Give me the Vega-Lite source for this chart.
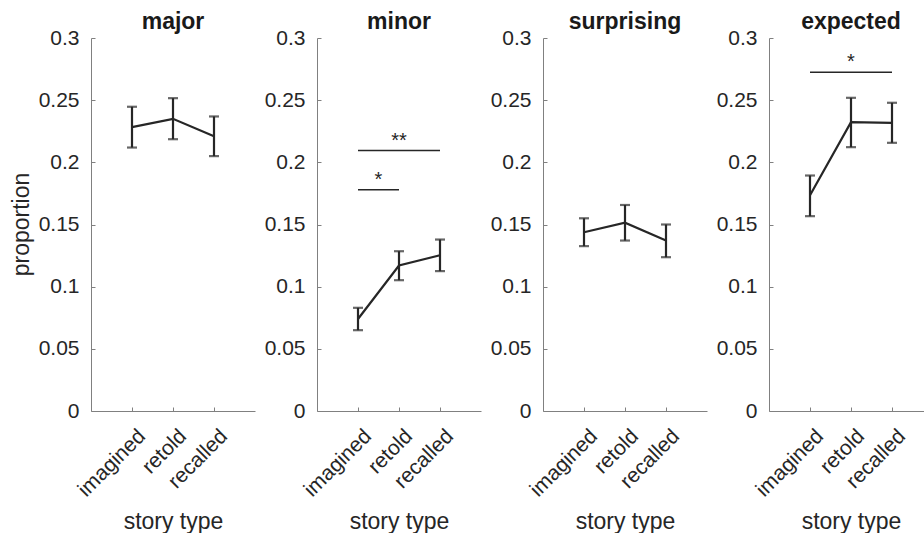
{
  "$schema": "https://vega.github.io/schema/vega-lite/v6.json",
  "autosize": {"type": "pad"},
  "padding": {"left": 10, "top": 11, "right": 0, "bottom": 0},
  "bounds": "flush",
  "spacing": 62,
  "background": "white",
  "config": {
    "view": {"stroke": null},
    "font": "Liberation Sans",
    "axis": {
      "domainColor": "#808080", "tickColor": "#808080", "labelColor": "#262626", "titleColor": "#262626",
      "labelFontSize": 21, "titleFontSize": 23, "titleFontWeight": "normal", "grid": false,
      "tickSize": -4, "labelPadding": 16, "domainWidth": 1, "tickWidth": 1, "labelOverlap": false, "labelFlush": false, "labelBound": false,
      "labelFont": "Liberation Sans", "titleFont": "Liberation Sans"
    },
    "axisX": {"labelPadding": 18, "labelOffset": 2, "titleBaseline": "alphabetic", "titleY": 117},
    "title": {"fontSize": 23, "fontWeight": "bold", "color": "#1a1a1a", "font": "Liberation Sans", "baseline": "alphabetic", "offset": -7}
  },
  "datasets": {
    "means": [
      {"panel": "major", "pos": 1, "story": "imagined", "mean": 0.2283, "lo": 0.2119, "hi": 0.2447},
      {"panel": "major", "pos": 2, "story": "retold", "mean": 0.2350, "lo": 0.2186, "hi": 0.2516},
      {"panel": "major", "pos": 3, "story": "recalled", "mean": 0.2210, "lo": 0.2050, "hi": 0.2369},
      {"panel": "minor", "pos": 1, "story": "imagined", "mean": 0.0740, "lo": 0.0650, "hi": 0.0830},
      {"panel": "minor", "pos": 2, "story": "retold", "mean": 0.1170, "lo": 0.1052, "hi": 0.1285},
      {"panel": "minor", "pos": 3, "story": "recalled", "mean": 0.1253, "lo": 0.1125, "hi": 0.1379},
      {"panel": "surprising", "pos": 1, "story": "imagined", "mean": 0.1438, "lo": 0.1326, "hi": 0.1550},
      {"panel": "surprising", "pos": 2, "story": "retold", "mean": 0.1514, "lo": 0.1371, "hi": 0.1657},
      {"panel": "surprising", "pos": 3, "story": "recalled", "mean": 0.1371, "lo": 0.1237, "hi": 0.1500},
      {"panel": "expected", "pos": 1, "story": "imagined", "mean": 0.1735, "lo": 0.1567, "hi": 0.1894},
      {"panel": "expected", "pos": 2, "story": "retold", "mean": 0.2323, "lo": 0.2122, "hi": 0.2519},
      {"panel": "expected", "pos": 3, "story": "recalled", "mean": 0.2318, "lo": 0.2157, "hi": 0.2479}
    ],
    "sig": [
      {"panel": "minor", "x1": 1, "x2": 3, "xm": 2, "y": 0.2095, "label": "**"},
      {"panel": "minor", "x1": 1, "x2": 2, "xm": 1.5, "y": 0.178, "label": "*"},
      {"panel": "expected", "x1": 1, "x2": 3, "xm": 2, "y": 0.2725, "label": "*"}
    ]
  },
  "hconcat": [
    {
      "width": 164, "height": 373, "title": "major",
      "data": {"name": "means"},
      "transform": [{"filter": "datum.panel === 'major'"}],
      "encoding": {
        "x": {"field": "pos", "type": "quantitative", "scale": {"domain": [0, 4], "nice": false},
          "axis": {"title": "story type", "values": [1, 2, 3], "labelAngle": -45, "labelAlign": "right", "labelBaseline": "top",
            "labelExpr": "datum.value == 1 ? 'imagined' : datum.value == 2 ? 'retold' : 'recalled'"}}
      },
      "layer": [
        {"mark": {"type": "line", "color": "#262626", "strokeWidth": 2.2},
          "encoding": {"y": {"field": "mean", "type": "quantitative", "scale": {"domain": [0, 0.3], "nice": false},
            "axis": {"title": "proportion", "titleX": -58, "titleY": 186, "values": [0, 0.05, 0.1, 0.15, 0.2, 0.25, 0.3], "format": "~g"}}}},
        {"mark": {"type": "rule", "color": "#262626", "strokeWidth": 2.2},
          "encoding": {"y": {"field": "lo", "type": "quantitative"}, "y2": {"field": "hi"}}},
        {"mark": {"type": "tick", "orient": "horizontal", "color": "#262626", "thickness": 2.2, "size": 10},
          "encoding": {"y": {"field": "lo", "type": "quantitative"}}},
        {"mark": {"type": "tick", "orient": "horizontal", "color": "#262626", "thickness": 2.2, "size": 10},
          "encoding": {"y": {"field": "hi", "type": "quantitative"}}}
      ]
    },
    {
      "width": 164, "height": 373, "title": "minor",
      "data": {"name": "means"},
      "transform": [{"filter": "datum.panel === 'minor'"}],
      "encoding": {
        "x": {"field": "pos", "type": "quantitative", "scale": {"domain": [0, 4], "nice": false},
          "axis": {"title": "story type", "values": [1, 2, 3], "labelAngle": -45, "labelAlign": "right", "labelBaseline": "top",
            "labelExpr": "datum.value == 1 ? 'imagined' : datum.value == 2 ? 'retold' : 'recalled'"}}
      },
      "layer": [
        {"mark": {"type": "line", "color": "#262626", "strokeWidth": 2.2},
          "encoding": {"y": {"field": "mean", "type": "quantitative", "scale": {"domain": [0, 0.3], "nice": false},
            "axis": {"title": null, "values": [0, 0.05, 0.1, 0.15, 0.2, 0.25, 0.3], "format": "~g"}}}},
        {"mark": {"type": "rule", "color": "#262626", "strokeWidth": 2.2},
          "encoding": {"y": {"field": "lo", "type": "quantitative"}, "y2": {"field": "hi"}}},
        {"mark": {"type": "tick", "orient": "horizontal", "color": "#262626", "thickness": 2.2, "size": 10},
          "encoding": {"y": {"field": "lo", "type": "quantitative"}}},
        {"mark": {"type": "tick", "orient": "horizontal", "color": "#262626", "thickness": 2.2, "size": 10},
          "encoding": {"y": {"field": "hi", "type": "quantitative"}}},
        {"data": {"name": "sig"}, "transform": [{"filter": "datum.panel === 'minor'"}],
          "mark": {"type": "rule", "color": "#262626", "strokeWidth": 1.5},
          "encoding": {"x": {"field": "x1", "type": "quantitative"}, "x2": {"field": "x2"}, "y": {"field": "y", "type": "quantitative"}}},
        {"data": {"name": "sig"}, "transform": [{"filter": "datum.panel === 'minor'"}],
          "mark": {"type": "text", "color": "#262626", "fontSize": 20, "baseline": "alphabetic", "dy": -4},
          "encoding": {"x": {"field": "xm", "type": "quantitative"}, "y": {"field": "y", "type": "quantitative"}, "text": {"field": "label"}}}
      ]
    },
    {
      "width": 164, "height": 373, "title": "surprising",
      "data": {"name": "means"},
      "transform": [{"filter": "datum.panel === 'surprising'"}],
      "encoding": {
        "x": {"field": "pos", "type": "quantitative", "scale": {"domain": [0, 4], "nice": false},
          "axis": {"title": "story type", "values": [1, 2, 3], "labelAngle": -45, "labelAlign": "right", "labelBaseline": "top",
            "labelExpr": "datum.value == 1 ? 'imagined' : datum.value == 2 ? 'retold' : 'recalled'"}}
      },
      "layer": [
        {"mark": {"type": "line", "color": "#262626", "strokeWidth": 2.2},
          "encoding": {"y": {"field": "mean", "type": "quantitative", "scale": {"domain": [0, 0.3], "nice": false},
            "axis": {"title": null, "values": [0, 0.05, 0.1, 0.15, 0.2, 0.25, 0.3], "format": "~g"}}}},
        {"mark": {"type": "rule", "color": "#262626", "strokeWidth": 2.2},
          "encoding": {"y": {"field": "lo", "type": "quantitative"}, "y2": {"field": "hi"}}},
        {"mark": {"type": "tick", "orient": "horizontal", "color": "#262626", "thickness": 2.2, "size": 10},
          "encoding": {"y": {"field": "lo", "type": "quantitative"}}},
        {"mark": {"type": "tick", "orient": "horizontal", "color": "#262626", "thickness": 2.2, "size": 10},
          "encoding": {"y": {"field": "hi", "type": "quantitative"}}}
      ]
    },
    {
      "width": 164, "height": 373, "title": "expected",
      "data": {"name": "means"},
      "transform": [{"filter": "datum.panel === 'expected'"}],
      "encoding": {
        "x": {"field": "pos", "type": "quantitative", "scale": {"domain": [0, 4], "nice": false},
          "axis": {"title": "story type", "values": [1, 2, 3], "labelAngle": -45, "labelAlign": "right", "labelBaseline": "top",
            "labelExpr": "datum.value == 1 ? 'imagined' : datum.value == 2 ? 'retold' : 'recalled'"}}
      },
      "layer": [
        {"mark": {"type": "line", "color": "#262626", "strokeWidth": 2.2},
          "encoding": {"y": {"field": "mean", "type": "quantitative", "scale": {"domain": [0, 0.3], "nice": false},
            "axis": {"title": null, "values": [0, 0.05, 0.1, 0.15, 0.2, 0.25, 0.3], "format": "~g"}}}},
        {"mark": {"type": "rule", "color": "#262626", "strokeWidth": 2.2},
          "encoding": {"y": {"field": "lo", "type": "quantitative"}, "y2": {"field": "hi"}}},
        {"mark": {"type": "tick", "orient": "horizontal", "color": "#262626", "thickness": 2.2, "size": 10},
          "encoding": {"y": {"field": "lo", "type": "quantitative"}}},
        {"mark": {"type": "tick", "orient": "horizontal", "color": "#262626", "thickness": 2.2, "size": 10},
          "encoding": {"y": {"field": "hi", "type": "quantitative"}}},
        {"data": {"name": "sig"}, "transform": [{"filter": "datum.panel === 'expected'"}],
          "mark": {"type": "rule", "color": "#262626", "strokeWidth": 1.5},
          "encoding": {"x": {"field": "x1", "type": "quantitative"}, "x2": {"field": "x2"}, "y": {"field": "y", "type": "quantitative"}}},
        {"data": {"name": "sig"}, "transform": [{"filter": "datum.panel === 'expected'"}],
          "mark": {"type": "text", "color": "#262626", "fontSize": 20, "baseline": "alphabetic", "dy": -4},
          "encoding": {"x": {"field": "xm", "type": "quantitative"}, "y": {"field": "y", "type": "quantitative"}, "text": {"field": "label"}}}
      ]
    }
  ]
}
